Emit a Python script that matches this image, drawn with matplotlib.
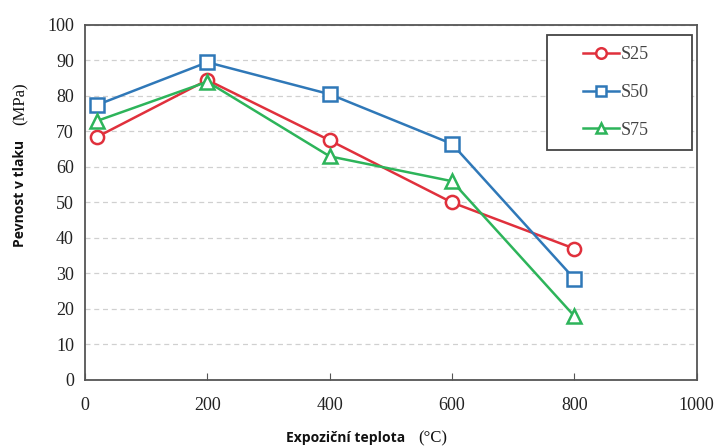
import matplotlib
matplotlib.use("Agg")
import matplotlib.pyplot as plt
from matplotlib.patches import Rectangle

temps = [20, 200, 400, 600, 800]
s25 = [68.5, 84.5, 67.5, 50.0, 37.0]
s50 = [77.5, 89.5, 80.5, 66.5, 28.5]
s75 = [73.0, 84.0, 63.0, 56.0, 18.0]
series_names = ["S25", "S50", "S75"]
x_ticks = [0, 200, 400, 600, 800, 1000]
y_ticks = list(range(0, 101, 10))

fig = plt.figure(figsize=(7.23, 4.46), dpi=100)
ax = fig.add_axes([0.1176, 0.148, 0.846, 0.796])

styles = [
    dict(color="#e0303c", marker="o", ms=9.5),
    dict(color="#2f78b8", marker="s", ms=9.5),
    dict(color="#2db45a", marker="^", ms=9.5),
]
for vals, name, st in zip([s25, s50, s75], series_names, styles):
    ax.plot(temps, vals, color=st["color"], marker=st["marker"], ms=st["ms"],
            mfc="white", mec=st["color"], mew=1.8, lw=1.8, label=name)

ax.set_xlim(0, 1000)
ax.set_ylim(0, 100)
ax.set_xticks(x_ticks)
ax.set_yticks(y_ticks)
ax.yaxis.grid(True, ls=(0, (4, 3)), color="#d0d0d0", lw=0.9)
ax.set_axisbelow(True)
for s in ax.spines.values():
    s.set_color("#555555")
    s.set_linewidth(1.3)
ax.tick_params(axis="x", direction="in", length=5, color="#555555", pad=12)
ax.tick_params(axis="y", length=0, pad=8)
for lab in ax.get_xticklabels() + ax.get_yticklabels():
    lab.set_fontfamily("Liberation Serif")
    lab.set_fontsize(13)
    lab.set_color("#222222")

# legend box
ax.add_patch(Rectangle((0.755, 0.648), 0.237, 0.324, transform=ax.transAxes,
                       fill=True, facecolor="white", edgecolor="#444444",
                       lw=1.3, zorder=4))
leg = ax.legend(loc="center", bbox_to_anchor=(0.868, 0.81), frameon=False,
                prop={"family": "Liberation Serif", "size": 13},
                handlelength=2.0, borderpad=0.3, labelspacing=1.15,
                handletextpad=0.1, markerscale=0.8)
leg.set_zorder(5)
for t in leg.get_texts():
    t.set_color("#444444")

fig.text(0.560, 0.018, "Expoziční teplota", family="Open Sans", weight="bold",
         fontsize=10, ha="right", va="center", color="#111111")
fig.text(0.578, 0.018, "(°C)", family="Liberation Serif",
         fontsize=12, ha="left", va="center", color="#111111")
fig.text(0.028, 0.686, "Pevnost v tlaku", family="Open Sans", weight="bold",
         fontsize=10, ha="center", va="top", rotation=90, color="#111111")
fig.text(0.028, 0.768, "(MPa)", family="Liberation Serif",
         fontsize=12, ha="center", va="center", rotation=90, color="#111111")

fig.savefig("out.png", dpi=100)
